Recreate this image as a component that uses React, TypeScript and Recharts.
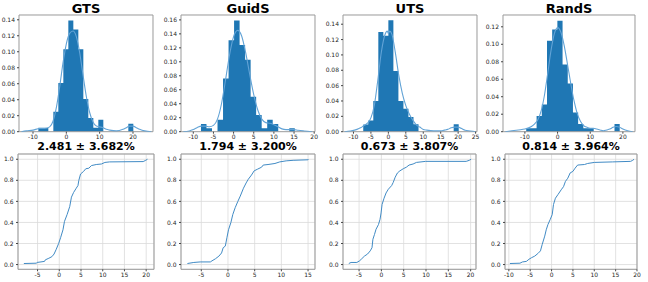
import React from 'react';
import {
  ComposedChart,
  LineChart,
  Area,
  Line,
  XAxis,
  YAxis,
  CartesianGrid,
  ReferenceArea,
} from 'recharts';

// histogram bins (edges + density per bin)
const gtsEdges = [-8.4, -6.9, -5.4, -3.9, -2.4, -0.9, 0.6, 2.1, 3.6, 5.1, 6.6, 8.1, 9.6, 11.1, 12.6, 14.1, 15.6, 17.1, 18.6, 20.1];
const gtsHeights = [0.005, 0.005, 0, 0.025, 0.061, 0.103, 0.139, 0.128, 0.103, 0.041, 0.017, 0.005, 0.015, 0, 0, 0, 0, 0, 0.01];
const guidsEdges = [-8.1, -6.73, -5.36, -3.99, -2.62, -1.25, 0.12, 1.49, 2.86, 4.23, 5.6, 6.97, 8.34, 9.71, 11.08, 12.45, 13.82, 15.19];
const guidsHeights = [0.011, 0.005, 0, 0.017, 0.076, 0.131, 0.159, 0.124, 0.103, 0.05, 0.024, 0.005, 0.017, 0.011, 0, 0, 0.005];
const utsEdges = [-7.2, -5.76, -4.32, -2.88, -1.44, 0, 1.44, 2.88, 4.32, 5.76, 7.2, 8.64, 10.08, 11.52, 12.96, 14.4, 15.84, 17.28, 18.72, 20.16];
const utsHeights = [0.0095, 0.0145, 0.04, 0.13, 0.125, 0.145, 0.079, 0.04, 0.03, 0.019, 0.0097, 0, 0, 0, 0, 0, 0, 0, 0.0097];
const randsEdges = [-9.6, -8.01, -6.42, -4.83, -3.24, -1.65, -0.06, 1.53, 3.12, 4.71, 6.3, 7.89, 9.48, 11.07, 12.66, 14.25, 15.84, 17.43, 19.02];
const randsHeights = [0.004, 0.004, 0.018, 0.031, 0.104, 0.117, 0.127, 0.077, 0.055, 0.022, 0.0087, 0.004, 0.004, 0, 0, 0, 0, 0.0087];

// kde curves
const gtsKde = [[-13.5, 0], [-12, 0.001], [-10, 0.002], [-8, 0.004], [-6.5, 0.004], [-5, 0.006], [-4, 0.013], [-3, 0.03], [-2, 0.056], [-1, 0.086], [0, 0.11], [1, 0.123], [2, 0.126], [3, 0.119], [4, 0.099], [5, 0.071], [6, 0.044], [7, 0.024], [8, 0.012], [9, 0.007], [10, 0.006], [11, 0.005], [12, 0.003], [13, 0.002], [15, 0.001], [17, 0.003], [18, 0.005], [19, 0.007], [20, 0.007], [21, 0.005], [22, 0.003], [23.5, 0.001], [25.5, 0]];
const guidsKde = [[-12.5, 0], [-11, 0.001], [-10, 0.003], [-9, 0.006], [-8, 0.008], [-7, 0.008], [-6, 0.007], [-5, 0.009], [-4, 0.018], [-3, 0.04], [-2, 0.074], [-1, 0.11], [0, 0.136], [1, 0.145], [2, 0.137], [3, 0.113], [4, 0.082], [5, 0.053], [6, 0.031], [7, 0.018], [8, 0.013], [9, 0.012], [10, 0.01], [11, 0.007], [12, 0.004], [13, 0.003], [14, 0.003], [15, 0.003], [16, 0.002], [17.5, 0.001], [19.5, 0]];
const utsKde = [[-12.5, 0], [-11, 0.001], [-9, 0.003], [-8, 0.005], [-7, 0.008], [-6, 0.011], [-5, 0.018], [-4, 0.035], [-3, 0.068], [-2, 0.104], [-1, 0.126], [-0.3, 0.131], [0, 0.128], [0.4, 0.131], [1, 0.127], [2, 0.103], [3, 0.073], [4, 0.05], [5, 0.034], [6, 0.023], [7, 0.015], [8, 0.009], [9, 0.006], [10, 0.003], [11, 0.002], [13, 0.001], [15, 0.001], [16, 0.002], [17, 0.003], [18, 0.005], [19, 0.006], [20, 0.006], [21, 0.004], [22, 0.002], [23.5, 0.001], [25, 0]];
const randsKde = [[-16, 0], [-14, 0.001], [-12, 0.002], [-10, 0.003], [-8, 0.006], [-7, 0.009], [-6, 0.014], [-5, 0.024], [-4, 0.042], [-3, 0.067], [-2, 0.093], [-1, 0.112], [0, 0.119], [1, 0.114], [2, 0.099], [3, 0.078], [4, 0.056], [5, 0.036], [6, 0.021], [7, 0.012], [8, 0.007], [9, 0.005], [10, 0.004], [11, 0.004], [12, 0.003], [13, 0.002], [14, 0.001], [15, 0.002], [16, 0.003], [17, 0.005], [18, 0.006], [19, 0.005], [20, 0.003], [21.5, 0.001], [23, 0]];

// empirical cdfs
const gtsCdf = [[-8.15, 0.01], [-5.3, 0.013], [-5.1, 0.02], [-3.4, 0.03], [-3.2, 0.045], [-2.4, 0.06], [-1.7, 0.075], [-1.2, 0.1], [-0.7, 0.145], [-0.15, 0.2], [0.3, 0.255], [0.85, 0.33], [1.2, 0.41], [1.8, 0.475], [2.4, 0.55], [2.8, 0.64], [3.3, 0.685], [3.9, 0.725], [4.3, 0.75], [4.5, 0.8], [4.9, 0.86], [5.6, 0.885], [6.1, 0.91], [6.8, 0.915], [7.4, 0.94], [8.5, 0.95], [9.7, 0.955], [10.5, 0.97], [11.6, 0.975], [19.3, 0.978], [19.9, 0.99], [20.3, 1.0]];
const guidsCdf = [[-7.6, 0.01], [-6.4, 0.02], [-5.2, 0.025], [-3.3, 0.025], [-3.0, 0.035], [-2.35, 0.055], [-1.7, 0.08], [-1.2, 0.11], [-0.9, 0.16], [-0.5, 0.175], [-0.2, 0.255], [0.1, 0.33], [0.55, 0.4], [0.9, 0.475], [1.35, 0.54], [1.85, 0.6], [2.3, 0.65], [2.9, 0.725], [3.4, 0.775], [3.8, 0.81], [4.4, 0.85], [4.9, 0.89], [5.5, 0.905], [6.3, 0.925], [6.6, 0.945], [7.5, 0.95], [8.8, 0.96], [9.7, 0.975], [10.9, 0.985], [12.2, 0.99], [15.0, 0.995], [15.1, 1.0]];
const utsCdf = [[-7.3, 0.01], [-6.8, 0.02], [-5.5, 0.02], [-4.9, 0.035], [-4.4, 0.055], [-3.8, 0.08], [-3.1, 0.1], [-2.5, 0.13], [-2.1, 0.16], [-1.9, 0.24], [-1.55, 0.285], [-1.2, 0.335], [-0.65, 0.38], [-0.3, 0.43], [-0.07, 0.49], [0.15, 0.57], [0.6, 0.63], [1.05, 0.68], [1.55, 0.715], [2.3, 0.75], [2.65, 0.78], [3.1, 0.83], [3.6, 0.87], [4.15, 0.89], [4.9, 0.91], [5.6, 0.925], [6.2, 0.945], [7.1, 0.955], [7.85, 0.97], [9.9, 0.98], [19, 0.98], [19.7, 0.99], [20.1, 1.0]];
const randsCdf = [[-9.75, 0.01], [-7.4, 0.013], [-6.8, 0.025], [-5.9, 0.03], [-5.3, 0.05], [-4.7, 0.065], [-3.95, 0.08], [-3.2, 0.105], [-2.6, 0.13], [-2.2, 0.19], [-1.6, 0.27], [-1.25, 0.33], [-0.85, 0.38], [-0.3, 0.43], [0.15, 0.475], [0.45, 0.57], [0.9, 0.63], [1.5, 0.665], [2.25, 0.71], [2.8, 0.74], [3.25, 0.79], [3.8, 0.82], [4.35, 0.87], [5, 0.885], [5.5, 0.915], [6.1, 0.945], [7.7, 0.95], [8.45, 0.96], [10, 0.97], [14.3, 0.975], [18.5, 0.98], [19.0, 0.99], [19.3, 1.0]];

const titles = ['GTS', 'GuidS', 'UTS', 'RandS'];
const stats = ['2.481 ± 3.682%', '1.794 ± 3.200%', '0.673 ± 3.807%', '0.814 ± 3.964%'];

// tick labels
const histXTicks = [
  [-10, 0, 10, 20],
  [-10, -5, 0, 5, 10, 15, 20],
  [-10, -5, 0, 5, 10, 15, 20, 25],
  [-10, 0, 10, 20],
];
const histYTicks = [
  [0, 0.02, 0.04, 0.06, 0.08, 0.1, 0.12, 0.14],
  [0, 0.02, 0.04, 0.06, 0.08, 0.1, 0.12, 0.14, 0.16],
  [0, 0.02, 0.04, 0.06, 0.08, 0.1, 0.12, 0.14],
  [0, 0.02, 0.04, 0.06, 0.08, 0.1, 0.12],
];
const cdfXTicks = [
  [-5, 0, 5, 10, 15, 20],
  [-5, 0, 5, 10, 15],
  [-5, 0, 5, 10, 15, 20],
  [-10, -5, 0, 5, 10, 15, 20],
];
const cdfYTicks = [0, 0.2, 0.4, 0.6, 0.8, 1.0];

// axis limits
const histXDomains = [[-14.2, 26], [-13.05, 20.2], [-13, 25.4], [-16.7, 23.7]];
const histYDomains = [[0, 0.146], [0, 0.167], [0, 0.152], [0, 0.1335]];
const cdfXDomains = [[-9.5, 21.8], [-8.8, 16.3], [-8.6, 21.2], [-10.9, 20.0]];
const cdfYDomain = [-0.045, 1.05];

// plot boxes in page pixels
const topCols = [[19, 153], [181, 315], [343, 477], [503, 635]];
const bottomCols = [[18, 154], [181, 315], [343, 476], [505, 637]];
const topRow = [15, 131.7];
const bottomRow = [154, 269.3];

const edgesList = [gtsEdges, guidsEdges, utsEdges, randsEdges];
const heightsList = [gtsHeights, guidsHeights, utsHeights, randsHeights];
const kdeList = [gtsKde, guidsKde, utsKde, randsKde];
const cdfList = [gtsCdf, guidsCdf, utsCdf, randsCdf];

const YW = 26;
const XH = 12;
const MT = 2;
const MR = 8;

const tickStyle = { fontSize: 6, fill: '#262626', fontFamily: 'DejaVu Sans' };
const frame = '#9a9a9a';

const toSteps = (edges: number[], heights: number[]) =>
  edges.map((x, i) => ({ x, y: i < heights.length ? heights[i] : 0 }));
const toPoints = (pairs: number[][]) => pairs.map(([x, y]) => ({ x, y }));

const HistPanel = ({ i }: { i: number }) => {
  const [x0, x1] = topCols[i];
  const [y0, y1] = topRow;
  const w = x1 - x0 + YW + MR;
  const h = y1 - y0 + MT + XH;
  const xd = histXDomains[i];
  const yd = histYDomains[i];
  return (
    <div style={{ position: 'absolute', left: x0 - YW, top: y0 - MT }}>
      <ComposedChart width={w} height={h} margin={{ top: MT, right: MR, bottom: 0, left: 0 }}>
        <XAxis
          type="number"
          dataKey="x"
          domain={xd}
          ticks={histXTicks[i]}
          interval={0}
          allowDataOverflow
          axisLine={false}
          tickLine={{ stroke: '#444' }}
          tickSize={2}
          tickMargin={1}
          tick={tickStyle}
          height={XH}
        />
        <YAxis
          type="number"
          domain={yd}
          ticks={histYTicks[i]}
          interval={0}
          allowDataOverflow
          axisLine={false}
          tickLine={{ stroke: '#444' }}
          tickSize={2}
          tickMargin={2}
          tick={tickStyle}
          width={YW}
          tickFormatter={(v: number) => v.toFixed(2)}
        />
        <Area
          type="stepAfter"
          data={toSteps(edgesList[i], heightsList[i])}
          dataKey="y"
          stroke="none"
          fill="#1f77b4"
          fillOpacity={1}
          isAnimationActive={false}
        />
        <Line
          type="monotone"
          data={toPoints(kdeList[i])}
          dataKey="y"
          stroke="#62a3d6"
          strokeWidth={1.1}
          dot={false}
          activeDot={false}
          isAnimationActive={false}
        />
        <ReferenceArea x1={xd[0]} x2={xd[1]} y1={yd[0]} y2={yd[1]} fill="none" stroke={frame} strokeWidth={1} />
      </ComposedChart>
    </div>
  );
};

const CdfPanel = ({ i }: { i: number }) => {
  const [x0, x1] = bottomCols[i];
  const [y0, y1] = bottomRow;
  const w = x1 - x0 + YW + MR;
  const h = y1 - y0 + MT + XH;
  const xd = cdfXDomains[i];
  return (
    <div style={{ position: 'absolute', left: x0 - YW, top: y0 - MT }}>
      <LineChart width={w} height={h} margin={{ top: MT, right: MR, bottom: 0, left: 0 }}>
        <CartesianGrid stroke="#dadada" strokeWidth={0.8} />
        <XAxis
          type="number"
          dataKey="x"
          domain={xd}
          ticks={cdfXTicks[i]}
          interval={0}
          allowDataOverflow
          axisLine={false}
          tickLine={{ stroke: '#444' }}
          tickSize={2}
          tickMargin={1.5}
          tick={tickStyle}
          height={XH}
        />
        <YAxis
          type="number"
          domain={cdfYDomain}
          ticks={cdfYTicks}
          interval={0}
          allowDataOverflow
          axisLine={false}
          tickLine={{ stroke: '#444' }}
          tickSize={2}
          tickMargin={2.5}
          tick={tickStyle}
          width={YW}
          tickFormatter={(v: number) => v.toFixed(1)}
        />
        <Line
          type="linear"
          data={toPoints(cdfList[i])}
          dataKey="y"
          stroke="#3f8ac4"
          strokeWidth={1}
          dot={false}
          activeDot={false}
          isAnimationActive={false}
        />
        <ReferenceArea x1={xd[0]} x2={xd[1]} y1={cdfYDomain[0]} y2={cdfYDomain[1]} fill="none" stroke={frame} strokeWidth={1} />
      </LineChart>
    </div>
  );
};

export default function App() {
  return (
    <div
      style={{
        position: 'absolute',
        left: 0,
        top: 0,
        width: 648,
        height: 282,
        background: '#fff',
        fontFamily: 'DejaVu Sans',
        overflow: 'hidden',
      }}
    >
      {titles.map((t, i) => (
        <div
          key={t}
          style={{
            position: 'absolute',
            left: topCols[i][0],
            width: topCols[i][1] - topCols[i][0],
            top: 2.3,
            textAlign: 'center',
            fontWeight: 'bold',
            fontSize: 13,
            lineHeight: '13px',
            color: '#000',
          }}
        >
          {t}
        </div>
      ))}
      {stats.map((s, i) => (
        <div
          key={s}
          style={{
            position: 'absolute',
            left: bottomCols[i][0],
            width: bottomCols[i][1] - bottomCols[i][0],
            top: 140.7,
            textAlign: 'center',
            fontWeight: 'bold',
            fontSize: 11,
            lineHeight: '11px',
            color: '#000',
            whiteSpace: 'nowrap',
          }}
        >
          {s}
        </div>
      ))}
      {titles.map((t, i) => (
        <HistPanel key={`h${t}`} i={i} />
      ))}
      {titles.map((t, i) => (
        <CdfPanel key={`c${t}`} i={i} />
      ))}
    </div>
  );
}
